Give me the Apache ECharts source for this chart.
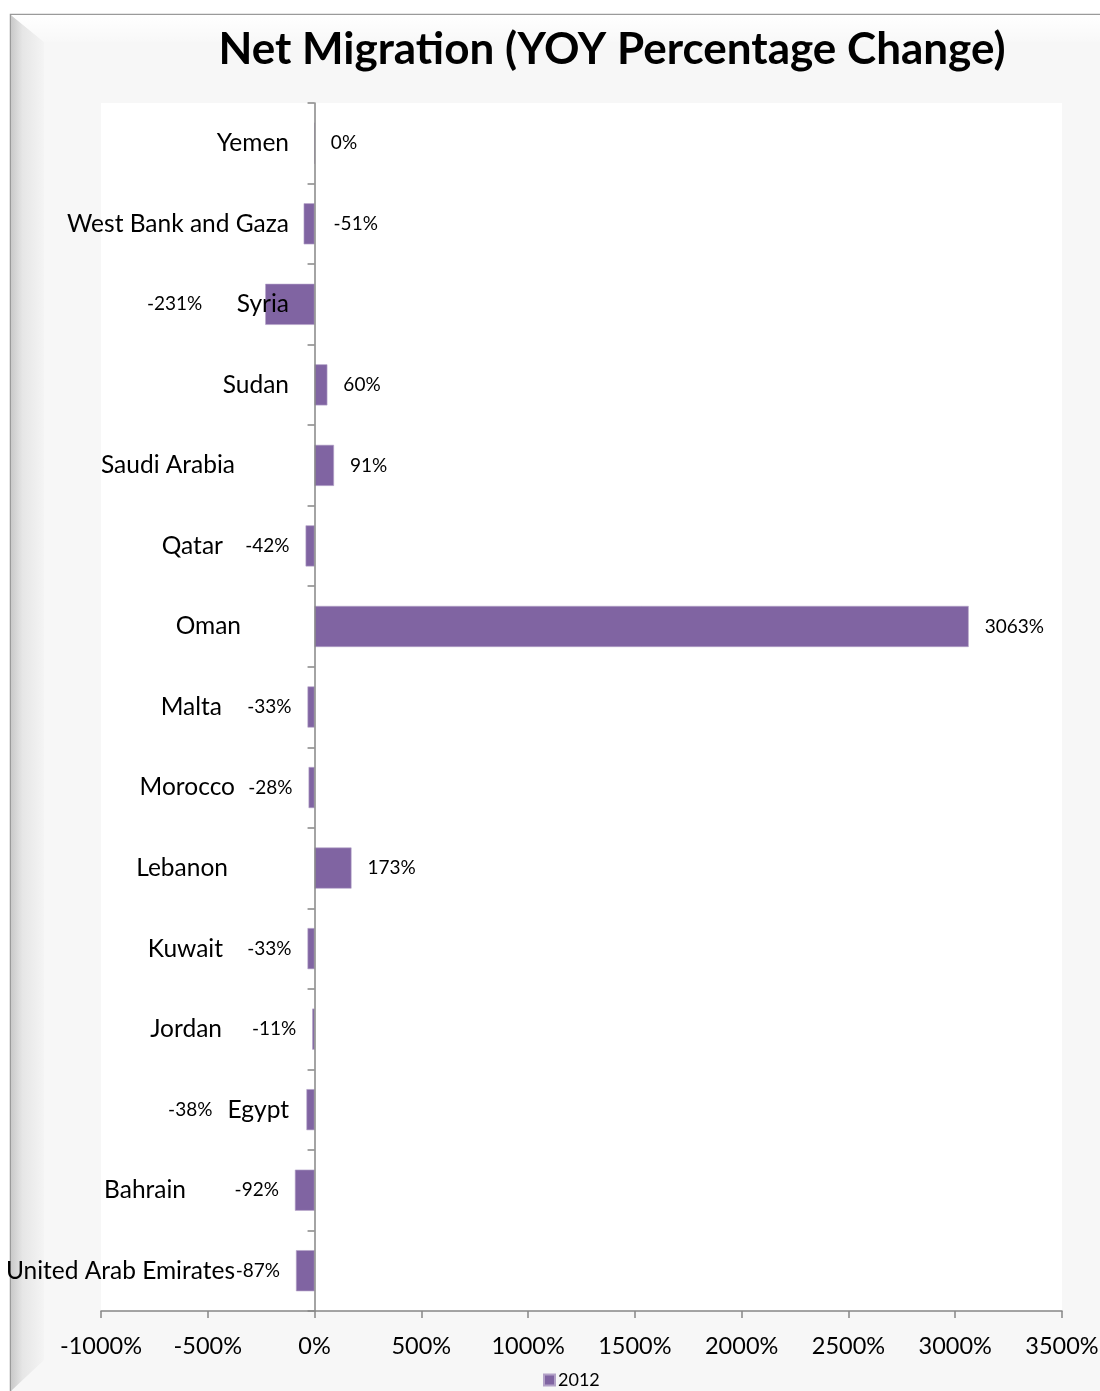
<!DOCTYPE html>
<html>
<head>
<meta charset="utf-8">
<title>Net Migration (YOY Percentage Change)</title>
<script src="https://cdn.jsdelivr.net/npm/echarts@6/dist/echarts.min.js"></script>
<style>
  html, body { margin: 0; padding: 0; background: #ffffff; }
  #chart { width: 1100px; height: 1391px; }
</style>
</head>
<body>
<div id="chart"></div>
<script>
// Categories listed bottom to top (ECharts category y-axis runs upward)
const countries = [
  'United Arab Emirates', 'Bahrain', 'Egypt', 'Jordan', 'Kuwait', 'Lebanon',
  'Morocco', 'Malta', 'Oman', 'Qatar', 'Saudi Arabia', 'Sudan', 'Syria',
  'West Bank and Gaza', 'Yemen'
];
// Year-over-year change in net migration, percent
const change2012 = [-87, -92, -38, -11, -33, 173, -28, -33, 3063, -42, 91, 60, -231, -51, 0];
const seriesName = '2012';
const xTicks = { min: -1000, max: 3500, interval: 500 };

// Extra right padding for category names so they clear the value labels
const namePad = [54, 103, 0, 67, 66, 61, 54, 67, 48, 66, 54, 0, 0, 0, 0];
// Value-label placement overrides: [position, distance]
const labelPlace = {
  'Syria': ['left', 63],
  'Egypt': ['left', 94],
  'West Bank and Gaza': ['right', 19]
};

const FONT = 'Lato, "Liberation Sans", sans-serif';
const BAR = '#8064A2';

const chart = echarts.init(document.getElementById('chart'), null, { renderer: 'canvas' });

const barData = change2012.map((v, i) => {
  const name = countries[i];
  const place = labelPlace[name] || [v < 0 ? 'left' : 'right', 16];
  return {
    value: v,
    label: { position: place[0], distance: place[1] }
  };
});

chart.setOption({
  animation: false,
  backgroundColor: '#ffffff',
  graphic: [
    // chart-area panel
    { type: 'rect', silent: true, z: -10,
      shape: { x: 10.5, y: 14.5, width: 1100, height: 1390 },
      style: { fill: '#f7f7f7', stroke: '#9a9a9a', lineWidth: 1.5 } },
    // left bevel shading
    { type: 'polygon', silent: true, z: -9,
      shape: { points: [[11, 15], [44, 42], [44, 1360], [11, 1391]] },
      style: { fill: new echarts.graphic.LinearGradient(0, 0, 1, 0, [
        { offset: 0, color: '#c9c9c9' }, { offset: 0.35, color: '#e6e6e6' }, { offset: 1, color: '#f4f4f4' }
      ]) } },
    // top bevel shading
    { type: 'polygon', silent: true, z: -9,
      shape: { points: [[11, 15], [1100, 15], [1100, 42], [44, 42]] },
      style: { fill: new echarts.graphic.LinearGradient(0, 0, 0, 1, [
        { offset: 0, color: '#ffffff' }, { offset: 1, color: '#f8f8f8' }
      ]) } }
  ],
  title: {
    text: 'Net Migration (YOY Percentage Change)',
    left: 607,
    top: 23,
    textAlign: 'center',
    textStyle: { fontFamily: FONT, fontSize: 44, fontWeight: 'bold', color: '#000000' }
  },
  legend: {
    data: [seriesName],
    left: 538,
    top: 1366,
    itemWidth: 11,
    itemHeight: 11,
    itemGap: 6,
    icon: 'rect',
    textStyle: { fontFamily: FONT, fontSize: 18, color: '#000000', padding: [0, 0, 0, -2] }
  },
  grid: {
    left: 101, right: 38, top: 103, bottom: 80,
    outerBoundsMode: 'none',
    containLabel: false,
    show: true, backgroundColor: '#ffffff', borderWidth: 0
  },
  xAxis: {
    type: 'value',
    min: xTicks.min,
    max: xTicks.max,
    interval: xTicks.interval,
    axisLine: { show: true, lineStyle: { color: '#868686', width: 1.5 } },
    axisTick: { show: true, length: 7, inside: false, lineStyle: { color: '#868686', width: 1.5 } },
    splitLine: { show: false },
    axisLabel: {
      margin: 23,
      fontFamily: FONT, fontSize: 23.5, color: '#000000',
      formatter: v => v + '%'
    }
  },
  yAxis: {
    type: 'category',
    z: 3,
    data: countries.map((c, i) => ({
      value: c,
      textStyle: { padding: [0, namePad[i], 0, 0] }
    })),
    axisLine: { show: true, onZero: true, lineStyle: { color: '#868686', width: 1.5 } },
    axisTick: { show: true, length: 7, inside: false, lineStyle: { color: '#868686', width: 1.5 } },
    splitLine: { show: false },
    axisLabel: {
      // names sit just left of the zero line, inside the plot area
      margin: -188,
      fontFamily: FONT, fontSize: 24.5, color: '#000000'
    }
  },
  series: [{
    name: seriesName,
    type: 'bar',
    data: barData,
    barWidth: '51%',
    itemStyle: { color: BAR, borderColor: '#b3a2c7', borderWidth: 0.6 },
    label: {
      show: true,
      fontFamily: FONT, fontSize: 19, color: '#000000',
      formatter: p => p.value + '%'
    }
  }]
});
</script>
</body>
</html>
